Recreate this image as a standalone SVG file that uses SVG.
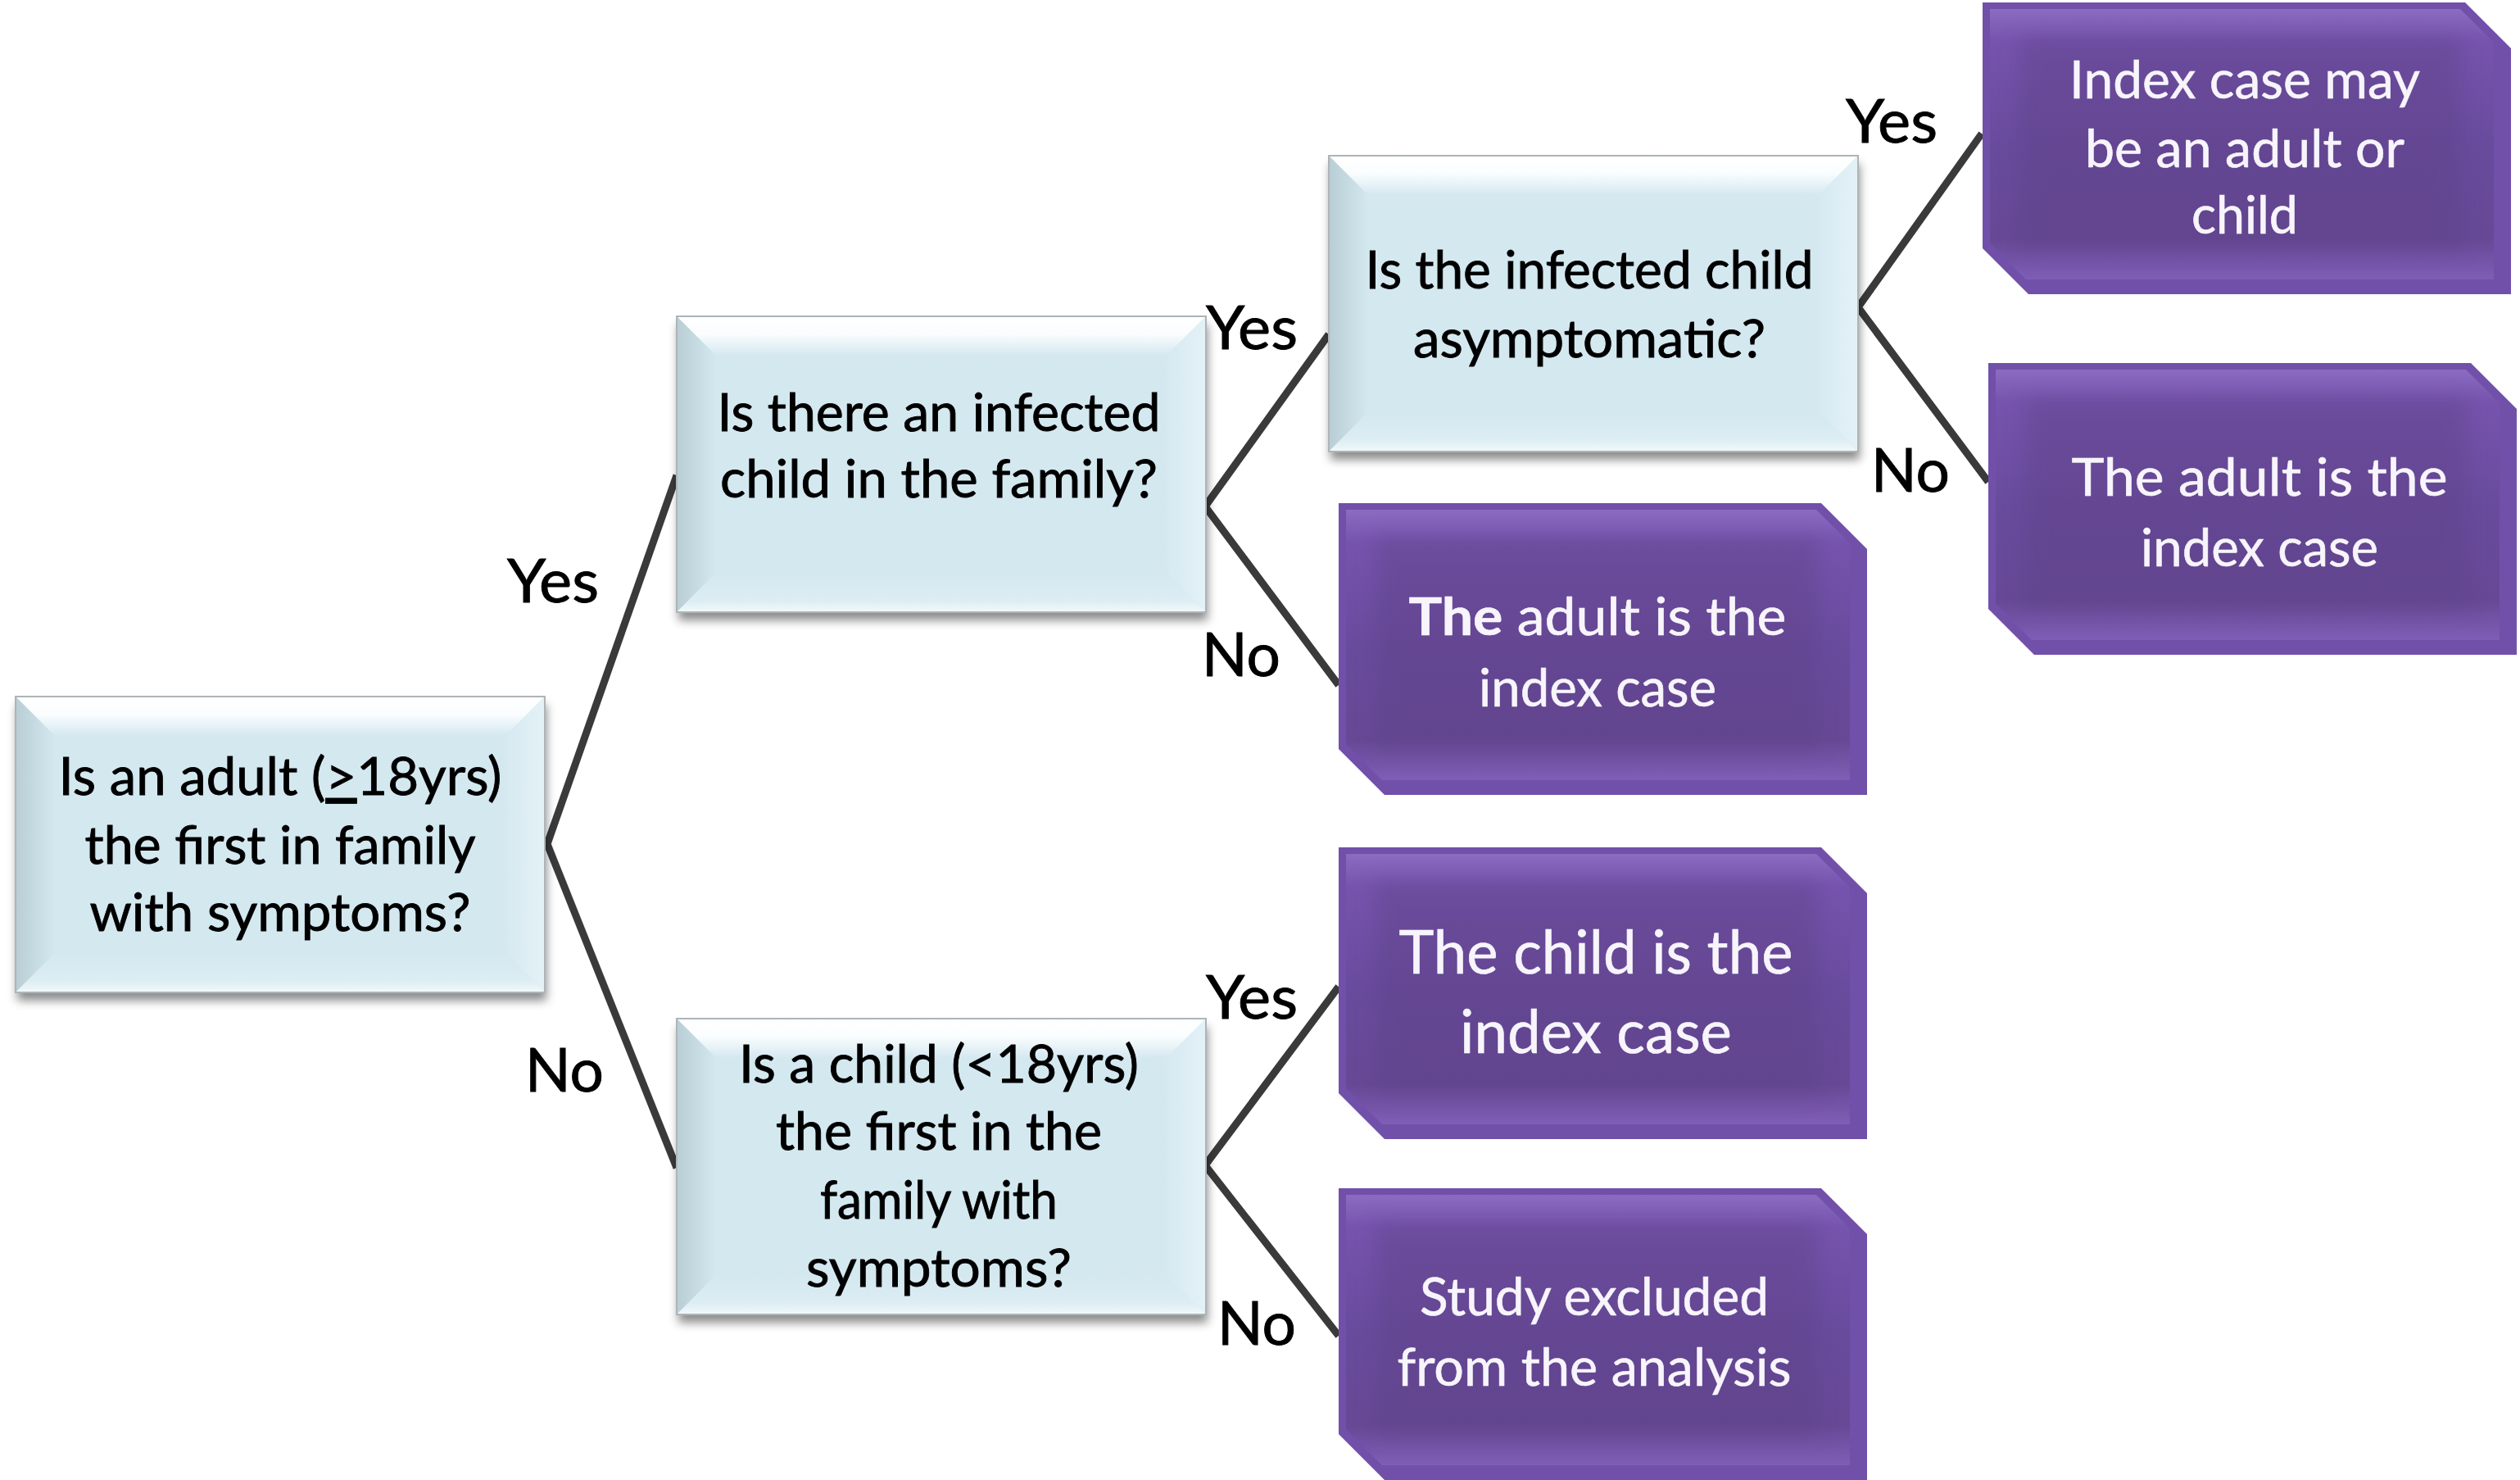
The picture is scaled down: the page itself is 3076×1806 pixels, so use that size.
<svg xmlns="http://www.w3.org/2000/svg" xmlns:xlink="http://www.w3.org/1999/xlink" width="3076" height="1806" viewBox="0 0 3076 1806">
<style>
  .q{font-family:Lato,'Open Sans','Liberation Sans',sans-serif;font-size:64px;fill:#000;stroke:#000;stroke-width:0.9px;text-anchor:middle}
  .r{font-family:Lato,'Open Sans','Liberation Sans',sans-serif;font-size:64px;fill:#F7F5FB;stroke:#F7F5FB;stroke-width:0.6px;text-anchor:middle}
  .rb{font-family:Lato,'Open Sans','Liberation Sans',sans-serif;font-size:73px;fill:#F7F5FB;stroke:#F7F5FB;stroke-width:0.6px;text-anchor:middle}
  .lbl{font-family:Lato,'Open Sans','Liberation Sans',sans-serif;font-size:74px;fill:#000;stroke:#000;stroke-width:0.9px;text-anchor:middle}
  .conn{fill:none;stroke:#3A3A3A;stroke-width:9;stroke-linejoin:miter}
</style>
<defs>
  <filter id="shadow" x="-5%" y="-5%" width="110%" height="120%">
    <feDropShadow dx="2" dy="10" stdDeviation="6" flood-color="#000" flood-opacity="0.45"/>
  </filter>
  <filter id="soft" x="-10%" y="-10%" width="120%" height="120%">
    <feGaussianBlur stdDeviation="12"/>
  </filter>
  <linearGradient id="bTop" x1="0" y1="0" x2="0" y2="1">
    <stop offset="0" stop-color="#FFFFFF"/>
    <stop offset="0.45" stop-color="#FAFDFE"/>
    <stop offset="1" stop-color="#D4E8F0"/>
  </linearGradient>
  <linearGradient id="bLeft" x1="0" y1="0" x2="1" y2="0">
    <stop offset="0" stop-color="#B9CDD5"/>
    <stop offset="1" stop-color="#D4E8F0"/>
  </linearGradient>
  <linearGradient id="bRight" x1="1" y1="0" x2="0" y2="0">
    <stop offset="0" stop-color="#E4F2F7"/>
    <stop offset="1" stop-color="#D6E9F1"/>
  </linearGradient>
  <linearGradient id="bBot" x1="0" y1="1" x2="0" y2="0">
    <stop offset="0" stop-color="#F2F9FB"/>
    <stop offset="0.3" stop-color="#DCEDF3"/>
    <stop offset="1" stop-color="#D4E8F0"/>
  </linearGradient>
  <linearGradient id="pFace" x1="0" y1="0" x2="0" y2="1">
    <stop offset="0" stop-color="#8B6CC1"/>
    <stop offset="0.12" stop-color="#7654AE"/>
    <stop offset="0.5" stop-color="#694B9D"/>
    <stop offset="0.85" stop-color="#664895"/>
    <stop offset="1" stop-color="#7F5EB6"/>
  </linearGradient>
  <g id="blueShape">
    <rect width="646" height="361" fill="#D4E8F0" filter="url(#shadow)"/>
    <polygon points="0,0 646,0 598,48 48,48" fill="url(#bTop)"/>
    <polygon points="0,0 48,48 48,313 0,361" fill="url(#bLeft)"/>
    <polygon points="646,0 646,361 598,313 598,48" fill="url(#bRight)"/>
    <polygon points="0,361 646,361 598,313 48,313" fill="url(#bBot)"/>
    <rect width="646" height="361" fill="none" stroke="#AEB4B7" stroke-width="2"/>
  </g>
  <g id="purpleShape">
    <path d="M0,0 H589 L645,56 V356 H56 L0,300 Z" fill="#7150AA"/>
    <path d="M9,8 H583 L624,49 V338 H53 L9,294 Z" fill="url(#pFace)"/>
    <rect x="45" y="42" width="540" height="258" fill="#5E4288" opacity="0.45" filter="url(#soft)"/>
  </g>
</defs>
<rect width="3076" height="1806" fill="#FFFFFF"/>

<g id="connectors">
  <path class="conn" d="M826,580 L668,1030 L826,1425"/>
  <path class="conn" d="M1622,408 L1471,618 L1634,836"/>
  <path class="conn" d="M2419,163 L2268,375 L2427,588"/>
  <path class="conn" d="M1634,1204 L1471,1422 L1634,1630"/>
</g>

<g id="labels">
  <text class="lbl" x="675" y="735" textLength="112" lengthAdjust="spacingAndGlyphs">Yes</text>
  <text class="lbl" x="689" y="1332" textLength="96" lengthAdjust="spacingAndGlyphs">No</text>
  <text class="lbl" x="1528" y="426" textLength="112" lengthAdjust="spacingAndGlyphs">Yes</text>
  <text class="lbl" x="1515" y="825" textLength="96" lengthAdjust="spacingAndGlyphs">No</text>
  <text class="lbl" x="2309" y="174" textLength="112" lengthAdjust="spacingAndGlyphs">Yes</text>
  <text class="lbl" x="2332" y="600" textLength="96" lengthAdjust="spacingAndGlyphs">No</text>
  <text class="lbl" x="1528" y="1243" textLength="112" lengthAdjust="spacingAndGlyphs">Yes</text>
  <text class="lbl" x="1534" y="1641" textLength="96" lengthAdjust="spacingAndGlyphs">No</text>
</g>

<g id="node-adult-first">
  <use href="#blueShape" x="19" y="850"/>
  <text class="q" x="342" y="970" textLength="541" lengthAdjust="spacingAndGlyphs">Is an adult (<tspan text-decoration="underline">&gt;</tspan>18yrs)</text>
  <text class="q" x="342" y="1054" textLength="477" lengthAdjust="spacingAndGlyphs">the first in family</text>
  <text class="q" x="342" y="1136" textLength="465" lengthAdjust="spacingAndGlyphs">with symptoms?</text>
</g>

<g id="node-infected-child">
  <use href="#blueShape" x="826" y="386"/>
  <text class="q" x="1146" y="526" textLength="541" lengthAdjust="spacingAndGlyphs">Is there an infected</text>
  <text class="q" x="1146" y="607" textLength="534" lengthAdjust="spacingAndGlyphs">child in the family?</text>
</g>

<g id="node-child-first">
  <use href="#blueShape" x="826" y="1243"/>
  <text class="q" x="1146" y="1321" textLength="488" lengthAdjust="spacingAndGlyphs">Is a child (&lt;18yrs)</text>
  <text class="q" x="1146" y="1403" textLength="398" lengthAdjust="spacingAndGlyphs">the first in the</text>
  <text class="q" x="1146" y="1487" textLength="290" lengthAdjust="spacingAndGlyphs">family with</text>
  <text class="q" x="1146" y="1570" textLength="324" lengthAdjust="spacingAndGlyphs">symptoms?</text>
</g>

<g id="node-asymptomatic">
  <use href="#blueShape" x="1622" y="190"/>
  <text class="q" x="1940" y="352" textLength="547" lengthAdjust="spacingAndGlyphs">Is the infected child</text>
  <text class="q" x="1940" y="436" textLength="430" lengthAdjust="spacingAndGlyphs">asymptomatic?</text>
</g>

<g id="node-adult-or-child">
  <use href="#purpleShape" x="2420" y="3"/>
  <text class="r" x="2740" y="120" textLength="428" lengthAdjust="spacingAndGlyphs">Index case may</text>
  <text class="r" x="2740" y="204" textLength="390" lengthAdjust="spacingAndGlyphs">be an adult or</text>
  <text class="r" x="2740" y="285" textLength="130" lengthAdjust="spacingAndGlyphs">child</text>
</g>

<g id="node-adult-index-right">
  <use href="#purpleShape" x="2427" y="443"/>
  <text class="r" x="2758" y="605" textLength="459" lengthAdjust="spacingAndGlyphs">The adult is the</text>
  <text class="r" x="2758" y="691" textLength="290" lengthAdjust="spacingAndGlyphs">index case</text>
</g>

<g id="node-adult-index-mid">
  <use href="#purpleShape" x="1634" y="614"/>
  <text class="r" x="1950" y="775" textLength="461" lengthAdjust="spacingAndGlyphs"><tspan font-weight="bold">The</tspan> adult is the</text>
  <text class="r" x="1950" y="862" textLength="290" lengthAdjust="spacingAndGlyphs">index case</text>
</g>

<g id="node-child-index">
  <use href="#purpleShape" x="1634" y="1034"/>
  <text class="rb" x="1948" y="1188" textLength="481" lengthAdjust="spacingAndGlyphs">The child is the</text>
  <text class="rb" x="1948" y="1285" textLength="332" lengthAdjust="spacingAndGlyphs">index case</text>
</g>

<g id="node-excluded">
  <use href="#purpleShape" x="1634" y="1450"/>
  <text class="r" x="1946" y="1605" textLength="426" lengthAdjust="spacingAndGlyphs">Study excluded</text>
  <text class="r" x="1946" y="1691" textLength="481" lengthAdjust="spacingAndGlyphs">from the analysis</text>
</g>
</svg>
